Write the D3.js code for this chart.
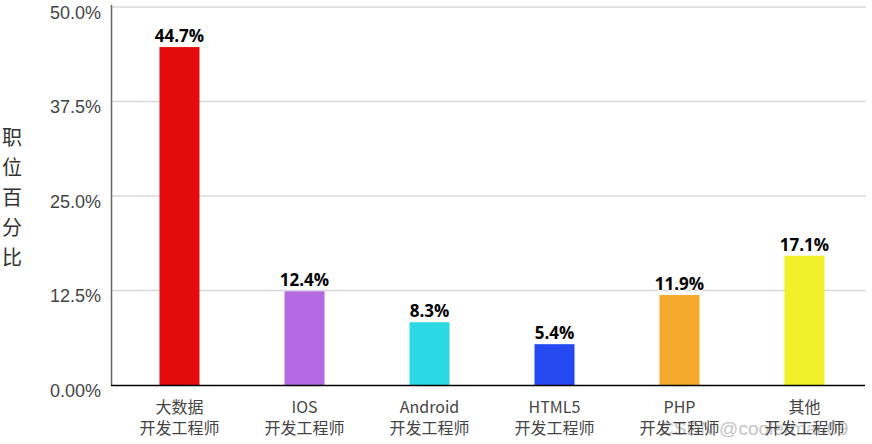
<!DOCTYPE html>
<html><head><meta charset="utf-8">
<script src="https://cdn.jsdelivr.net/npm/d3@7/dist/d3.min.js"></script>
<style>body{margin:0;background:#fff}svg{display:block}</style>
</head><body>
<svg id="c" width="872" height="444"></svg>
<script>
const categories = ["大数据\n开发工程师","IOS\n开发工程师","Android\n开发工程师","HTML5\n开发工程师","PHP\n开发工程师","其他\n开发工程师"];
const values = [44.7, 12.4, 8.3, 5.4, 11.9, 17.1];
const colors = ["#e30b0b","#b46ae2","#2bd9e4","#2449f1","#f4a82c","#f2f02a"];
const tickValues = [0, 12.5, 25, 37.5, 50];
const tickLabels = ["0.00%","12.5%","25.0%","37.5%","50.0%"];
const yTitle = "职位百分比";

const svg = d3.select("#c");
const font = "'Noto Sans CJK SC','Noto Sans',sans-serif";
const x = d3.scaleBand().domain(categories).range([117, 867]).paddingInner(0.68).paddingOuter(0.34);
const y = d3.scaleLinear().domain([0, 50]).range([385, 7]);

// gridlines
svg.append("g").selectAll("line").data(tickValues.filter(v=>v>0)).join("line")
  .attr("x1", 112).attr("x2", 866)
  .attr("y1", d=>y(d)).attr("y2", d=>y(d))
  .attr("stroke", "#d8d8d8").attr("stroke-width", 1.5);

// y tick labels
svg.append("g").selectAll("text").data(tickValues).join("text")
  .attr("x", 101).attr("y", d=>y(d)+11.5)
  .attr("text-anchor","end")
  .attr("font-family","'Liberation Sans',Arial,sans-serif").attr("font-size",18)
  .attr("fill","#444").text((d,i)=>tickLabels[i]);

// bars
svg.append("g").selectAll("rect").data(values).join("rect")
  .attr("x",(d,i)=>x(categories[i])).attr("width",x.bandwidth())
  .attr("y",d=>y(d)).attr("height",d=>y(0)-y(d))
  .attr("fill",(d,i)=>colors[i]);

// value labels
svg.append("g").selectAll("text").data(values).join("text")
  .attr("x",(d,i)=>x(categories[i])+x.bandwidth()/2).attr("y",d=>y(d)-5)
  .attr("text-anchor","middle")
  .attr("font-family","'Open Sans','DejaVu Sans',sans-serif").attr("font-weight","bold").attr("font-size",17)
  .attr("fill","#000").attr("stroke","#fff").attr("stroke-width",2).attr("paint-order","stroke")
  .text(d=>d.toFixed(1)+"%");

// axes lines
svg.append("line").attr("x1",111.5).attr("x2",111.5).attr("y1",5).attr("y2",385.5).attr("stroke","#666").attr("stroke-width",1.5);
svg.append("line").attr("x1",111).attr("x2",865).attr("y1",385.5).attr("y2",385.5).attr("stroke","#000").attr("stroke-width",1.5);

// watermark
svg.append("text").attr("x",660).attr("y",435).attr("font-family","'Liberation Sans',Arial,sans-serif")
  .attr("font-size",19).attr("fill","#c4c4c4").text("CSDN @coolerman09");

// category labels (one text per line)
const lines = [];
categories.forEach(c => c.split("\n").forEach((s,j) => lines.push({c, s, j})));
svg.append("g").selectAll("text").data(lines).join("text")
  .attr("x",d=>x(d.c)+x.bandwidth()/2).attr("y",d=>413+d.j*21)
  .attr("text-anchor","middle").attr("font-family",font).attr("font-size",16).attr("fill","#444")
  .text(d=>d.s);

// y title
svg.append("g").selectAll("text").data(yTitle.split("")).join("text")
  .attr("x",12).attr("y",(d,i)=>145+i*30).attr("text-anchor","middle")
  .attr("font-family",font).attr("font-size",20).attr("fill","#333").text(d=>d);
</script>
</body></html>
